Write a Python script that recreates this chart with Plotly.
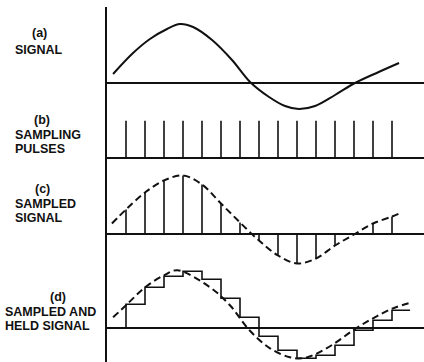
import plotly.graph_objects as go

# ---------------- data (time in sample periods, amplitude in arbitrary units) ----------------
# (a) continuous signal
signal_t = [0.32, 1.37, 2.26, 3.16, 3.84, 4.53, 5.53, 6.58, 7.53, 8.53, 9.37, 10.1, 10.95, 12.0, 13.05, 14.3, 15.37]
signal_v = [9, 30, 44, 54, 59, 56, 43, 23, 1, -14, -23, -26, -23, -12, 0, 11, 20]

# (b) sampling pulse instants and pulse heights
sample_t = [1, 2, 3, 4, 5, 6, 7, 8, 9, 10, 11, 12, 13, 14, 15]
pulse_h = [37.5] * 15

# (c) sampled values and dashed envelope
sampled_v = [24, 41, 53, 58, 49, 30, 11, -7, -22, -30, -25, -12, -1, 10, 17]
env_c_t = [0.26, 1, 2, 3, 4, 5, 6, 7, 8, 9, 10, 11, 12, 13, 14, 15, 15.5]
env_c_v = [10, 24, 41, 53, 58, 49, 30, 11, -7, -22, -30, -25, -12, -1, 10, 17, 21]

# (d) sample-and-hold values and dashed envelope
held_v = [24, 41, 52, 57, 49, 30, 11, -8, -22, -30, -27, -17, -2, 8, 18]
hold_end_t = 15.95
env_d_t = [0.32, 1, 2, 3, 3.7, 5.42, 6.47, 7.5, 8.58, 9.63, 10.3, 10.95, 11.9, 12.95, 14.0, 15.05, 16.05]
env_d_v = [11, 23, 41, 53, 58, 41, 23, -2, -20, -29, -30, -26, -16, -2, 10, 20, 26]

labels = {
    "a": ["(a)", "SIGNAL"],
    "b": ["(b)", "SAMPLING", "PULSES"],
    "c": ["(c)", "SAMPLED", "SIGNAL"],
    "d": ["(d)", "SAMPLED AND", "HELD SIGNAL"],
}

# ---------------- layout helpers ----------------
W, H = 424, 362
INK = "#111111"


def dom(top_px, bottom_px):
    return [1 - bottom_px / H, 1 - top_px / H]


def stems(ts, vs):
    xs, ys = [], []
    for t, v in zip(ts, vs):
        xs += [t, t, None]
        ys += [0, v, None]
    return xs, ys


fig = go.Figure()

# (a) signal
fig.add_trace(go.Scatter(x=signal_t, y=signal_v, mode="lines", yaxis="y",
                         line=dict(color=INK, width=2, shape="spline", smoothing=1)))

# (b) pulses
px_, py_ = stems(sample_t, pulse_h)
fig.add_trace(go.Scatter(x=px_, y=py_, mode="lines", yaxis="y2",
                         line=dict(color=INK, width=1.6)))

# (c) sampled signal
cx_, cy_ = stems(sample_t, sampled_v)
fig.add_trace(go.Scatter(x=cx_, y=cy_, mode="lines", yaxis="y3",
                         line=dict(color=INK, width=1.6)))
fig.add_trace(go.Scatter(x=env_c_t, y=env_c_v, mode="lines", yaxis="y3",
                         line=dict(color=INK, width=2, dash="7px,4px", shape="spline", smoothing=1)))

# (d) sampled and held
sx = [sample_t[0]] + sample_t + [hold_end_t]
sy = [0] + held_v + [held_v[-1]]
fig.add_trace(go.Scatter(x=sx, y=sy, mode="lines", yaxis="y4",
                         line=dict(color=INK, width=1.6, shape="hv")))
fig.add_trace(go.Scatter(x=env_d_t, y=env_d_v, mode="lines", yaxis="y4",
                         line=dict(color=INK, width=2, dash="7px,4px", shape="spline", smoothing=1)))

yax_common = dict(anchor="x", showline=True, linecolor=INK, linewidth=2,
                  zeroline=True, zerolinecolor=INK, zerolinewidth=1.8,
                  showgrid=False, showticklabels=False, ticks="", fixedrange=True)

x0_px = 107
px_per_t = 19.0

fig.update_layout(
    width=W, height=H,
    margin=dict(l=0, r=0, t=0, b=0),
    paper_bgcolor="white", plot_bgcolor="white",
    showlegend=False,
    xaxis=dict(domain=[x0_px / W, 1], range=[0, (W - x0_px) / px_per_t],
               visible=False, showgrid=False, zeroline=False, fixedrange=True),
    yaxis=dict(domain=dom(7, 115), range=[-(115 - 83), 83 - 7], **yax_common),
    yaxis2=dict(domain=dom(115, 165), range=[-(165 - 158.3), 158.3 - 115], **yax_common),
    yaxis3=dict(domain=dom(165, 266), range=[-(266 - 233.5), 233.5 - 165], **yax_common),
    yaxis4=dict(domain=dom(266, 362), range=[-(362 - 328.3), 328.3 - 266], **yax_common),
)

# text labels: (x_px, anchor) for each line, y centres in px
label_pos = {
    "a": [(39, "center", 33), (13, "left", 50)],
    "b": [(42, "center", 120), (13, "left", 135), (13, "left", 149)],
    "c": [(42.5, "center", 189), (13, "left", 204), (13, "left", 218)],
    "d": [(58, "center", 297), (3, "left", 312), (3, "left", 326)],
}
for key, lines in labels.items():
    for text, (xp, anch, yp) in zip(lines, label_pos[key]):
        fig.add_annotation(x=xp / W, y=1 - yp / H, xref="paper", yref="paper",
                           text=text, showarrow=False, xanchor=anch, yanchor="middle",
                           font=dict(family="Liberation Sans, Arial, sans-serif", size=12.5,
                                     color=INK, weight="bold"))

fig.write_html("out.html", config={"displayModeBar": False},
               post_script="document.body.style.margin='0';document.body.style.padding='0';")
